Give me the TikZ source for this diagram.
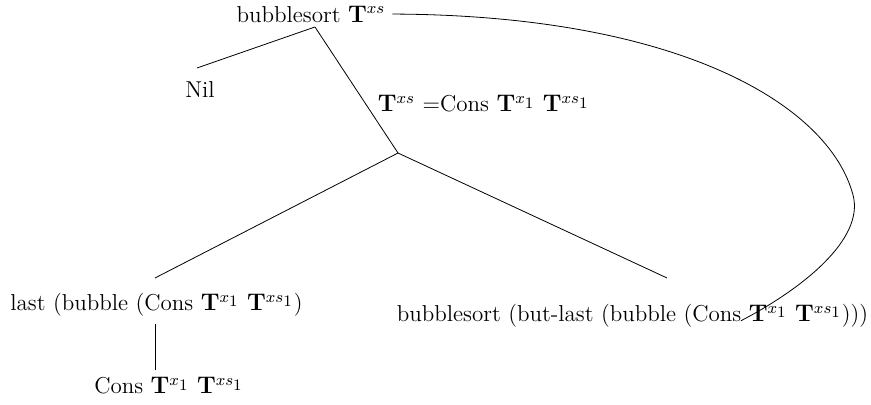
\documentclass[tikz,border=0pt]{standalone}
\usetikzlibrary{positioning}

\begin{document}
\begin{tikzpicture}[every node/.style={font=\fontsize{11.5}{14}\selectfont}]
    \useasboundingbox (0,0) rectangle (15.306,7.117);
    \node (root) at (5.465,6.87) {bubblesort $\mathbf{T}^{xs}$};
    \node (nil) at (3.515,5.535) {Nil};
    \node (cond) at (8.50,5.29) {$\mathbf{T}^{xs}$ =Cons $\mathbf{T}^{x_{\scriptstyle 1}}$ $\mathbf{T}^{xs_{\scriptstyle 1}}$};
    \node (last) at (2.750,1.757) {last (bubble (Cons $\mathbf{T}^{x_{\scriptstyle 1}}$ $\mathbf{T}^{xs_{\scriptstyle 1}}$)};
    \node (rec) at (11.115,1.564) {bubblesort (but-last (bubble (Cons $\mathbf{T}^{x_{\scriptstyle 1}}$ $\mathbf{T}^{xs_{\scriptstyle 1}}$)))};
    \node (cons) at (2.97,0.334) {Cons $\mathbf{T}^{x_{\scriptstyle 1}}$ $\mathbf{T}^{xs_{\scriptstyle 1}}$};
    \coordinate (top) at (5.535,6.643);
    \coordinate (nilend) at (3.462,5.922);
    \coordinate (split) at (6.994,4.428);
    \coordinate (lastend) at (2.724,2.232);
    \coordinate (recend) at (11.721,2.232);
    \coordinate (loopend) at (13.02,1.48);
    \draw (top) -- (nilend);
    \draw (top) -- (split);
    \draw (split) -- (lastend);
    \draw (split) -- (recend);
    \draw (2.724,0 |- last.south) -- (2.724,0 |- cons.north);
    \draw (root.east) .. controls (11.95,6.85) and (14.57,5.27) .. (14.99,3.69)
      .. controls (15.20,2.90) and (14.06,2.02) .. (loopend);
  \end{tikzpicture}
\end{document}
